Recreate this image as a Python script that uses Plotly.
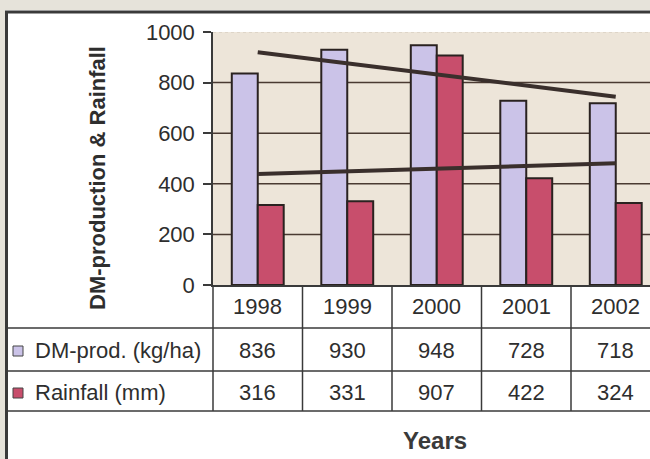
import numpy as np
import plotly.graph_objects as go

years = ["1998", "1999", "2000", "2001", "2002"]
dm_prod = [836, 930, 948, 728, 718]
rainfall = [316, 331, 907, 422, 324]
y_ticks = [0, 200, 400, 600, 800, 1000]

W, H = 650, 459
def px(x): return x / W
def py(y): return 1 - y / H

DARK = "#2a2220"
TXT = "#2e2e2e"
xs = list(range(len(years)))

fig = go.Figure()
fig.add_trace(go.Bar(x=xs, y=dm_prod, name="DM-prod. (kg/ha)",
                     marker=dict(color="#cbc3e8", line=dict(color=DARK, width=2))))
fig.add_trace(go.Bar(x=xs, y=rainfall, name="Rainfall (mm)",
                     marker=dict(color="#c84e6c", line=dict(color=DARK, width=2))))

# linear trend lines fitted to each series
for ser in (dm_prod, rainfall):
    k, b = np.polyfit(xs, ser, 1)
    fig.add_trace(go.Scatter(x=[xs[0], xs[-1]], y=[b + k * xs[0], b + k * xs[-1]],
                             mode="lines", line=dict(color="#3a2f2c", width=4),
                             showlegend=False, hoverinfo="skip"))

shapes = []
shapes.append(dict(type="rect", xref="paper", yref="paper", x0=0, x1=1, y0=py(10), y1=1,
                   fillcolor="#e6e3da", line=dict(width=0), layer="below"))
shapes.append(dict(type="rect", xref="paper", yref="paper", x0=0, x1=px(5), y0=0, y1=1,
                   fillcolor="#e6e3da", line=dict(width=0), layer="below"))
shapes.append(dict(type="line", xref="paper", yref="paper", x0=px(5), x1=1, y0=py(12), y1=py(12),
                   line=dict(color="#3a3a3a", width=3)))
shapes.append(dict(type="line", xref="paper", yref="paper", x0=px(6.5), x1=px(6.5), y0=py(11), y1=0,
                   line=dict(color="#3a3a3a", width=3)))
for t in y_ticks[1:-1]:
    shapes.append(dict(type="line", xref="paper", yref="y", x0=px(213), x1=1, y0=t, y1=t,
                       line=dict(color="#4a3a32", width=1.5), layer="below"))
shapes.append(dict(type="line", xref="paper", yref="y", x0=px(213), x1=1, y0=y_ticks[-1], y1=y_ticks[-1],
                   line=dict(color="#cfc6b8", width=1, dash="dot"), layer="below"))
for yy in (328, 371, 411):
    shapes.append(dict(type="line", xref="paper", yref="paper", x0=px(8), x1=1, y0=py(yy), y1=py(yy),
                       line=dict(color="#3a3a3a", width=1.5)))
shapes.append(dict(type="line", xref="paper", yref="paper", x0=px(213), x1=px(213), y0=py(285), y1=py(411),
                   line=dict(color="#3a3a3a", width=1.5)))
for i in xs:
    shapes.append(dict(type="line", xref="x", yref="paper", x0=i + 0.5, x1=i + 0.5, y0=py(285), y1=py(411),
                       line=dict(color="#3a3a3a", width=1.5)))
for yy, col in ((351, "#cbc3e8"), (393, "#c84e6c")):
    shapes.append(dict(type="rect", xref="paper", yref="paper", x0=px(13), x1=px(23),
                       y0=py(yy + 5), y1=py(yy - 5), fillcolor=col, line=dict(color="#444", width=1)))

ann = []
F = "Arial, Liberation Sans, sans-serif"
FS = 22
for i, yr in enumerate(years):
    ann.append(dict(x=i, y=py(306), xref="x", yref="paper", text=yr, showarrow=False,
                    font=dict(family=F, size=FS, color=TXT), yanchor="middle"))
    ann.append(dict(x=i, y=py(350), xref="x", yref="paper", text=str(dm_prod[i]), showarrow=False,
                    font=dict(family=F, size=FS, color=TXT), yanchor="middle"))
    ann.append(dict(x=i, y=py(392), xref="x", yref="paper", text=str(rainfall[i]), showarrow=False,
                    font=dict(family=F, size=FS, color=TXT), yanchor="middle"))
ann.append(dict(x=px(33), y=py(350), xref="paper", yref="paper", text="DM-prod. (kg/ha)", showarrow=False,
                xanchor="left", yanchor="middle", font=dict(family=F, size=FS, color=TXT)))
ann.append(dict(x=px(33), y=py(392), xref="paper", yref="paper", text="Rainfall (mm)", showarrow=False,
                xanchor="left", yanchor="middle", font=dict(family=F, size=FS, color=TXT)))
ann.append(dict(x=px(97), y=py(178), xref="paper", yref="paper", text="<b>DM-production & Rainfall</b>",
                showarrow=False, textangle=-90, xanchor="center", yanchor="middle",
                font=dict(family=F, size=22, color=TXT)))
ann.append(dict(x=px(435), y=py(440), xref="paper", yref="paper", text="<b>Years</b>",
                showarrow=False, xanchor="center", yanchor="middle",
                font=dict(family=F, size=24, color="#3a3a3a")))

cat_w = 89.5
fig.update_layout(
    template="none",
    width=W, height=H, margin=dict(l=0, r=0, t=0, b=0, pad=0, autoexpand=False),
    paper_bgcolor="white", plot_bgcolor="#ede5d9",
    barmode="group", bargap=0.42, bargroupgap=0,
    showlegend=False,
    shapes=shapes, annotations=ann,
    xaxis=dict(domain=[px(213), 1], range=[-0.5, -0.5 + (W - 213) / cat_w], automargin=False,
               showticklabels=False, ticks="", showgrid=False, zeroline=False,
               showline=True, linecolor="#3a3a3a", linewidth=1.5),
    yaxis=dict(domain=[py(285), py(32)], range=[0, 1000], tickvals=y_ticks, automargin=False,
               showgrid=False, zeroline=False, ticks="outside", ticklen=8, tickwidth=1.5,
               tickcolor="#3a3a3a", showline=True, linecolor="#3a3a3a", linewidth=1.5,
               ticklabelstandoff=4, tickfont=dict(family=F, size=FS, color=TXT)),
)

fig.write_html("out.html")
